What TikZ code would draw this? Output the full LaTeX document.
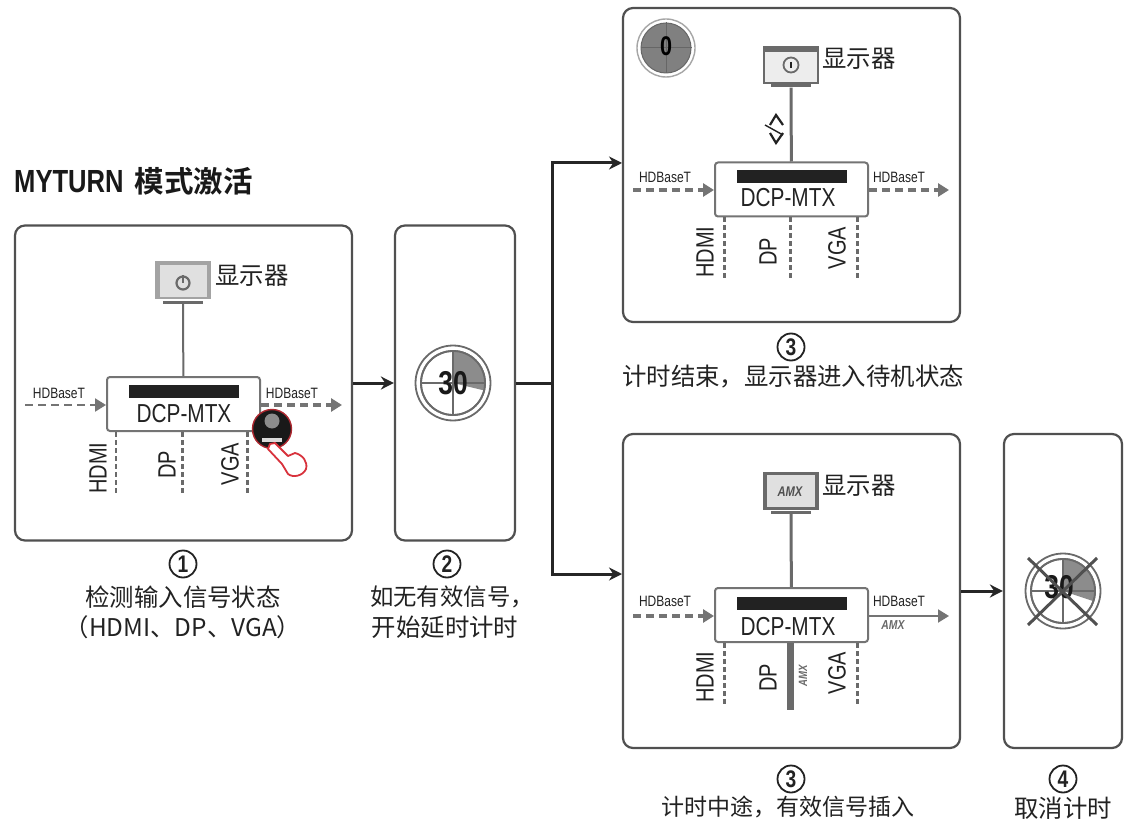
\documentclass[tikz,border=0pt]{standalone}
\usepackage{fontspec}
\setmainfont[FakeStretch=0.8]{Liberation Sans}
\newfontfamily\cjk{Noto Sans CJK SC}
\newfontfamily\cjkbold[BoldFont=Noto Sans CJK SC Bold]{Noto Sans CJK SC}
\usetikzlibrary{arrows.meta}
\definecolor{framegray}{HTML}{505050}
\definecolor{linegray}{HTML}{6A6A6A}
\definecolor{arrowgray}{HTML}{747474}
\definecolor{wedgegray}{HTML}{8C8C8C}
\definecolor{textgray}{HTML}{222222}
\definecolor{handred}{HTML}{D8323C}
\tikzset{
    panel/.style = {draw = framegray, line width = 2.2pt, fill = white, rounded corners = 10pt, inner sep = 0pt},
    casing/.style = {fill = #1, minimum width = 56pt, minimum height = 38pt, inner sep = 0pt},
    screen/.style = {fill = #1, inner sep = 0pt},
    foot/.style = {fill = linegray, minimum width = 40pt, minimum height = 3pt, inner sep = 0pt},
    dcpbox/.style = {draw = arrowgray, line width = 2pt, fill = white, rounded corners = 3pt, minimum width = 153pt, minimum height = 54pt, inner sep = 0pt},
    strip/.style = {fill = textgray, minimum width = 110pt, minimum height = 13pt, inner sep = 0pt},
    dcpname/.style = {font = \fontsize{26}{28}\selectfont, text = textgray, inner sep = 0pt},
    port/.style = {font = \fontsize{25}{28}\selectfont, text = textgray, rotate = 90, inner sep = 0pt},
    hdb/.style = {font = \fontsize{15}{18}\selectfont, text = textgray, inner sep = 0pt},
    zh/.style = {font = \cjk\fontsize{24.4}{27}\selectfont, text = textgray, inner sep = 0pt},
    amx/.style = {font = \fontsize{#1}{#1}\selectfont\bfseries\itshape, text = linegray, inner sep = 0pt},
    step num/.style = {draw = textgray, line width = 1.8pt, circle, minimum size = 27pt, inner sep = 0pt, font = \fontsize{24}{24}\selectfont\bfseries, text = textgray},
    dashlink/.style = {draw = arrowgray, line width = 3.2pt, dash pattern = on 8pt off 5pt},
    portlink/.style = {draw = linegray, line width = 3pt, dash pattern = on 5pt off 3pt},
    tiparrow/.style = {-{Triangle[length = 11pt, width = 13pt]}},
    flow/.style = {draw = black!85, line width = 3pt, -{Stealth[length = 13pt, width = 13pt]}},
    ring/.style = {circle, draw = linegray, line width = 1.8pt, minimum size = #1, inner sep = 0pt},
}
\begin{document}
\begin{tikzpicture}[x = 1pt, y = -1pt]
    \useasboundingbox (0, 0) rectangle (1132, 834);
    \fill[white] (0, 0) rectangle (1132, 834);
    \node[anchor = west, inner sep = 0pt, text = black!90] (title) at (14, 181) {\fontsize{32}{34}\selectfont\bfseries MYTURN\hspace{11pt}\cjkbold\fontsize{29.5}{32}\selectfont\bfseries 模式激活};

    \node[panel, minimum width = 337pt, minimum height = 315pt] (detect) at (183.5, 383) {};
    \node[panel, minimum width = 120pt, minimum height = 315pt] (delay) at (455, 383) {};
    \node[panel, minimum width = 337pt, minimum height = 314pt] (standby) at (791.5, 165) {};
    \node[panel, minimum width = 337pt, minimum height = 314pt] (insert) at (791.5, 591) {};
    \node[panel, minimum width = 118pt, minimum height = 314pt] (cancel) at (1063, 591) {};

    \node[casing = wedgegray!80] (mon1) at (183, 280) {};
    \node[screen = black!12, minimum width = 47pt, minimum height = 31pt] (scr1) at (183, 281) {};
    \node[foot] (foot1) at (183, 302) {};
    \node[circle, draw = linegray, line width = 2.2pt, minimum size = 13pt, inner sep = 0pt] (pow1) at (183, 283) {};
    \draw[linegray, line width = 2.2pt] (pow1.center) -- (pow1.north);
    \node[zh, anchor = west] (lab1) at (215, 276) {显示器};
    \node[dcpbox] (dcp1) at (183.5, 404) {};
    \node[strip] (strip1) at (183.5, 391.5) {};
    \node[dcpname] (name1) at (184, 414) {DCP-MTX};
    \draw[linegray, line width = 2pt] (foot1) -- (dcp1);
    \coordinate (in1) at (25, 405);
    \coordinate (out1) at (342, 405);
    \draw[dashlink, tiparrow, line width = 2.2pt] (in1) -- (in1 -| dcp1.west);
    \draw[dashlink, tiparrow] (out1 -| dcp1.east) -- (out1);
    \node[hdb] (hdin1) at (59, 393) {HDBaseT};
    \node[hdb] (hdout1) at (292, 393) {HDBaseT};
    \coordinate (hdmi1) at (116, 495);
    \coordinate (dp1) at (182, 495);
    \coordinate (vga1) at (247, 495);
    \draw[portlink, line width = 2pt] (hdmi1 |- dcp1.south) -- (hdmi1);
    \draw[portlink] (dp1 |- dcp1.south) -- (dp1);
    \draw[portlink] (vga1 |- dcp1.south) -- (vga1);
    \node[port] (hdmilab1) at (98, 468) {HDMI};
    \node[port] (dplab1) at (167, 465) {DP};
    \node[port] (vgalab1) at (230, 464) {VGA};

    \node[circle, fill = black!90, draw = handred!80!black, line width = 1.4pt, minimum size = 39pt, inner sep = 0pt] (button) at (272, 429) {};
    \node[circle, fill = black!45, minimum size = 15pt, inner sep = 0pt] (ball) at (272, 421) {};
    \node[fill = black!15, minimum width = 20pt, minimum height = 4pt, inner sep = 0pt] (tag) at (272, 440) {};
    \draw[handred, line width = 1.8pt, fill = white, line join = round] (270, 444) -- (275, 443) -- (288, 456) -- (295, 453) .. controls (303, 455) and (308, 462) .. (306, 469) .. controls (303, 476) and (293, 478) .. (288, 474) -- (282, 464) -- (268, 449) -- cycle;

    \node[ring = 75pt] (dial2) at (453, 383) {};
    \node[ring = 64pt] (face2) at (453, 383) {};
    \fill[wedgegray] (face2.center) -- (face2.north) arc[start angle = 90, end angle = -15, radius = 32pt] -- cycle;
    \draw[linegray, line width = 1.6pt] (face2.north) -- (face2.south);
    \draw[linegray, line width = 1.6pt] (face2.west) -- (face2.east);
    \node[ring = 64pt] (edge2) at (453, 383) {};
    \node[inner sep = 0pt, font = \fontsize{33}{33}\selectfont\bfseries, text = black!90] (count2) at (453, 383) {30};

    \node[circle, draw = black!35, line width = 1.4pt, minimum size = 58pt, inner sep = 0pt] (dial0) at (666, 48) {};
    \node[circle, fill = linegray!85, draw = black!60, line width = 1pt, minimum size = 50pt, inner sep = 0pt] (face0) at (666, 48) {};
    \draw[black!60, line width = 1pt] (face0.north) -- (face0.south);
    \draw[black!60, line width = 1pt] (face0.west) -- (face0.east);
    \node[inner sep = 0pt, font = \fontsize{27}{27}\selectfont\bfseries, text = black] (count0) at (666, 46) {0};

    \node[casing = linegray] (mon3) at (791, 65) {};
    \node[screen = black!7, minimum width = 52pt, minimum height = 30pt] (scr3) at (791, 67) {};
    \node[foot] (foot3) at (791, 86) {};
    \node[circle, draw = linegray, line width = 1.8pt, minimum size = 15pt, inner sep = 0pt] (pow3) at (791, 65) {};
    \draw[textgray, line width = 1.8pt] ([yshift = 3pt]pow3.center) -- ([yshift = -3pt]pow3.center);
    \node[zh, anchor = west] (lab3) at (822, 59) {显示器};
    \node[dcpbox] (dcp3) at (791.5, 189.5) {};
    \node[strip] (strip3) at (792, 177) {};
    \node[dcpname] (name3) at (788, 198) {DCP-MTX};
    \draw[linegray, line width = 3pt] (foot3) -- (dcp3);
    \draw[textgray, line width = 2.2pt] (770, 125) -- (776, 115) -- (783, 125);
    \draw[textgray, line width = 2.2pt] (770, 133) -- (776, 143) -- (783, 133);
    \draw[textgray, line width = 1.4pt] (765, 125) -- (783, 135);
    \coordinate (in3) at (633, 190);
    \coordinate (out3) at (949, 190);
    \draw[dashlink, tiparrow] (in3) -- (in3 -| dcp3.west);
    \draw[dashlink, tiparrow] (out3 -| dcp3.east) -- (out3);
    \node[hdb] (hdin3) at (665, 177) {HDBaseT};
    \node[hdb] (hdout3) at (899, 177) {HDBaseT};
    \coordinate (hdmi3) at (724, 280);
    \coordinate (dp3) at (790, 280);
    \coordinate (vga3) at (857, 280);
    \draw[portlink] (hdmi3 |- dcp3.south) -- (hdmi3);
    \draw[portlink] (dp3 |- dcp3.south) -- (dp3);
    \draw[portlink] (vga3 |- dcp3.south) -- (vga3);
    \node[port] (hdmilab3) at (705, 252) {HDMI};
    \node[port] (dplab3) at (768, 252) {DP};
    \node[port] (vgalab3) at (837, 248) {VGA};

    \node[casing = linegray] (mon4) at (791, 491) {};
    \node[screen = black!12, minimum width = 48pt, minimum height = 32pt] (scr4) at (791, 491) {};
    \node[foot] (foot4) at (791, 512) {};
    \node[amx = 14, text = framegray] (logo4) at (790, 492) {AMX};
    \node[zh, anchor = west] (lab4) at (822, 486) {显示器};
    \node[dcpbox] (dcp4) at (791.5, 615) {};
    \node[strip] (strip4) at (792, 603) {};
    \node[dcpname] (name4) at (788, 627) {DCP-MTX};
    \draw[linegray, line width = 3pt] (foot4) -- (dcp4);
    \coordinate (in4) at (633, 616);
    \coordinate (out4) at (949, 616);
    \draw[dashlink, tiparrow] (in4) -- (in4 -| dcp4.west);
    \draw[arrowgray, line width = 2pt, tiparrow] (out4 -| dcp4.east) -- (out4);
    \node[hdb] (hdin4) at (665, 601) {HDBaseT};
    \node[hdb] (hdout4) at (899, 601) {HDBaseT};
    \node[amx = 13] (logoout) at (893, 625) {AMX};
    \coordinate (hdmi4) at (724, 706);
    \coordinate (dp4) at (790, 710);
    \coordinate (vga4) at (857, 706);
    \draw[portlink] (hdmi4 |- dcp4.south) -- (hdmi4);
    \draw[linegray, line width = 7pt] (dp4 |- dcp4.south) -- (dp4);
    \draw[portlink] (vga4 |- dcp4.south) -- (vga4);
    \node[port] (hdmilab4) at (705, 677) {HDMI};
    \node[port] (dplab4) at (768, 678) {DP};
    \node[port] (vgalab4) at (837, 673) {VGA};
    \node[amx = 12, rotate = 90] (logodp) at (803, 676) {AMX};

    \node[ring = 75pt] (dial5) at (1063, 591) {};
    \node[ring = 64pt] (face5) at (1063, 591) {};
    \fill[wedgegray] (face5.center) -- (face5.north) arc[start angle = 90, end angle = -20, radius = 32pt] -- cycle;
    \draw[linegray, line width = 1.6pt] (face5.north) -- (face5.south);
    \draw[linegray, line width = 1.6pt] (face5.west) -- (face5.east);
    \node[ring = 64pt] (edge5) at (1063, 591) {};
    \node[inner sep = 0pt, font = \fontsize{33}{33}\selectfont\bfseries, text = black!90] (count5) at (1059, 587) {30};
    \coordinate (xa) at (1028, 558);
    \coordinate (xb) at (1097, 625);
    \coordinate (xc) at (1097, 558);
    \coordinate (xd) at (1028, 625);
    \draw[framegray, line width = 3pt] (xa) -- (xb);
    \draw[framegray, line width = 3pt] (xc) -- (xd);

    \coordinate (split) at (552, 383);
    \coordinate (entry3) at (622, 163);
    \coordinate (entry4) at (622, 574);
    \draw[flow] (detect.east) -- (delay.west);
    \draw[black!85, line width = 3pt] (delay.east) -- (split);
    \draw[flow] (split) |- (entry3);
    \draw[flow] (split) |- (entry4);
    \draw[flow] (insert.east) -- (cancel.west);

    \node[step num] (num1) at (183, 564) {1};
    \node[zh] (cap1a) at (183, 597) {检测输入信号状态};
    \node[zh] (cap1b) at (183, 627) {{\cjk （}HDMI{\cjk 、}DP{\cjk 、}VGA{\cjk ）}};
    \node[step num] (num2) at (447, 564) {2};
    \node[zh, font = \cjk\fontsize{23.4}{27}\selectfont] (cap2a) at (452, 597) {如无有效信号，};
    \node[zh] (cap2b) at (445, 627) {开始延时计时};
    \node[step num] (num3) at (791, 347) {3};
    \node[zh] (cap3) at (793, 377) {计时结束，显示器进入待机状态};
    \node[step num] (num4) at (791, 779) {3};
    \node[zh, font = \cjk\fontsize{23}{27}\selectfont] (cap4) at (788, 807) {计时中途，有效信号插入};
    \node[step num] (num5) at (1063, 779) {4};
    \node[zh] (cap5) at (1063, 808) {取消计时};
\end{tikzpicture}
\end{document}
